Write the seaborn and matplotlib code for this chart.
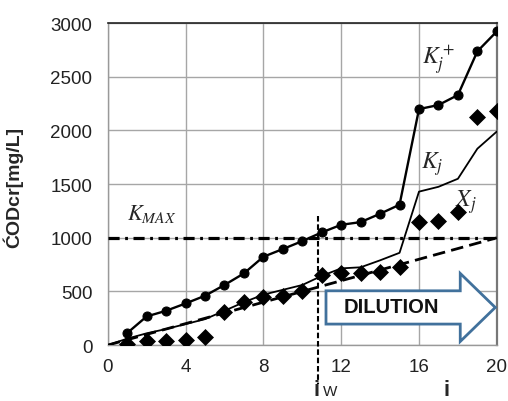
import numpy as np
import pandas as pd
import matplotlib
matplotlib.use("Agg")
import matplotlib.pyplot as plt
import seaborn as sns
from matplotlib.patches import FancyArrow
from matplotlib.transforms import blended_transform_factory

# ---- data ----
j_idx = list(range(1, 21))
k_plus = [112, 267, 320, 388, 460, 560, 668, 823, 895, 969,
          1050, 1121, 1146, 1224, 1308, 2199, 2237, 2330, 2737, 2923]
x_j = [10, 34, 40, 47, 80, 305, 404, 444, 454, 500,
       655, 668, 671, 680, 730, 1149, 1158, 1237, 2122, 2184]
kj_idx = list(range(0, 21))
k_j = [0, 60, 110, 150, 196, 242, 320, 400, 470, 515, 560,
       645, 715, 725, 790, 860, 1430, 1475, 1550, 1830, 1990]
lim_x = [0, 20]
lim_y = [0, 1000]
k_max = 1000
i_w = 10.8
iw_line_y = [1205, -363]
arrow_x = 11.22
arrow_len = 8.7
arrow_y = 351
arrow_width = 310
arrow_head_w = 634
arrow_head_len = 1.8
x_ticks = [0, 4, 8, 12, 16, 20]
y_ticks = [0, 500, 1000, 1500, 2000, 2500, 3000]

sns.set_theme(style="white")
plt.rcParams['font.family'] = ['Liberation Sans', 'DejaVu Sans']
plt.rcParams['mathtext.fontset'] = 'stix'
plt.rcParams['lines.scale_dashes'] = False

fig = plt.figure(figsize=(5.08, 4.02), dpi=100)
ax = fig.add_axes([0.212, 0.139, 0.766, 0.801])

df_kp = pd.DataFrame({"j": j_idx, "v": k_plus})
df_kj = pd.DataFrame({"j": kj_idx, "v": k_j})
df_xj = pd.DataFrame({"j": j_idx, "v": x_j})

# lim dashed line
ax.plot(lim_x, lim_y, color="black", lw=2.0, linestyle=(0, (9, 4.5)), zorder=3)
# KMAX dash-dot
ax.axhline(k_max, color="black", lw=2.3, linestyle=(0, (8, 4, 2, 4)), zorder=3)

sns.lineplot(data=df_kj, x="j", y="v", ax=ax, color="black", lw=1.3, zorder=4)
sns.lineplot(data=df_kp, x="j", y="v", ax=ax, color="black", lw=1.7,
             marker="o", markersize=6.5, markeredgecolor="black", zorder=5)
sns.scatterplot(data=df_xj, x="j", y="v", ax=ax, color="black", marker="D",
                s=75, edgecolor="black", linewidth=0, zorder=6)

# vertical iW dashed line
ax.plot([i_w, i_w], iw_line_y, color="black", lw=1.5,
        linestyle=(0, (4, 2)), clip_on=False, zorder=7)

# dilution arrow
arr = FancyArrow(arrow_x, arrow_y, arrow_len, 0, width=arrow_width,
                 head_width=arrow_head_w, head_length=arrow_head_len,
                 length_includes_head=True, facecolor="white",
                 edgecolor="#41719C", lw=2.0, zorder=8)
ax.add_patch(arr)
ax.text(arrow_x + 3.35, arrow_y + 5, "DILUTION", fontsize=14.5, fontweight="bold",
        ha="center", va="center", color="#111111", zorder=9)

# curve labels
ax.text(16.15, 2660, r"$K_j^+$", fontsize=17, ha="left", va="center")
ax.text(16.1, 1700, r"$K_j$", fontsize=17, ha="left", va="center")
ax.text(17.85, 1340, r"$X_j$", fontsize=17, ha="left", va="center")
ax.text(1.0, 1230, r"$K_{MAX}$", fontsize=16, ha="left", va="center")

ax.set_xlim(0, 20)
ax.set_ylim(0, 3000)
ax.set_xticks(x_ticks)
ax.set_yticks(y_ticks)
ax.tick_params(axis="both", labelsize=13.5, labelcolor="#222222", length=5,
               direction="out", width=0.8, color="#888888")
ax.tick_params(axis="y", pad=6)
ax.tick_params(axis="x", pad=4)
ax.grid(True, color="#a6a6a6", lw=1.0)
ax.set_axisbelow(True)
for s in ["left", "bottom"]:
    ax.spines[s].set_color("#999999")
    ax.spines[s].set_linewidth(1.0)
ax.spines["top"].set_color("#222222")
ax.spines["top"].set_linewidth(1.2)
ax.spines["right"].set_color("#777777")
ax.spines["right"].set_linewidth(1.6)

ax.set_xlabel("")
ax.set_ylabel("ĆODcr[mg/L]", fontsize=14, fontweight="bold")
ax.yaxis.set_label_coords(-0.218, 0.494)

trans = blended_transform_factory(ax.transData, ax.transAxes)
ax.text(i_w - 0.05, -0.17, "i", fontsize=16, fontweight="bold",
        ha="center", va="bottom", transform=trans)
ax.text(i_w + 0.25, -0.165, "W", fontsize=11, ha="left", va="bottom",
        transform=trans, color="#222222")
ax.text(17.4, -0.17, "i", fontsize=16, fontweight="bold",
        ha="center", va="bottom", transform=trans)

fig.savefig("out.png", dpi=100)
